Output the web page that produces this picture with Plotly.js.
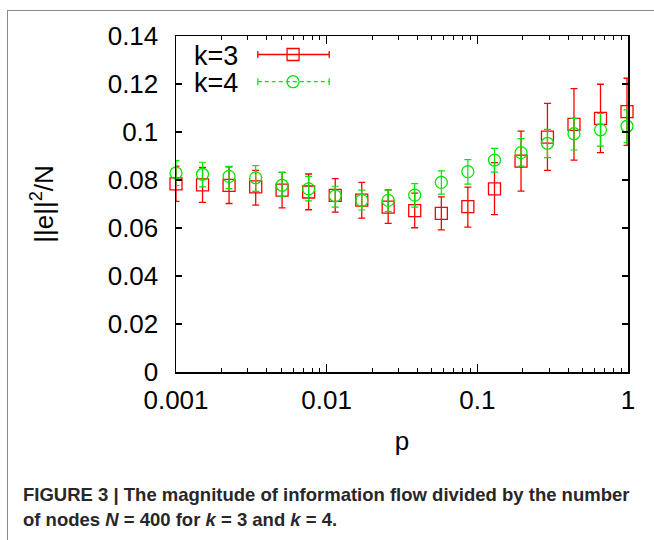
<!DOCTYPE html>
<html><head><meta charset="utf-8">
<script src="https://cdn.plot.ly/plotly-3.0.1.min.js"></script>
<style>
html,body{margin:0;padding:0;background:#fff;}
#wrap{position:relative;width:654px;height:540px;overflow:hidden;}
#chart{position:absolute;left:0;top:0;width:654px;height:540px;}
#frame{position:absolute;left:7px;top:10px;width:700px;height:600px;border-top:1.5px solid #8a8a8a;border-left:1.5px solid #8a8a8a;pointer-events:none;}
</style></head><body>
<div id="wrap"><div id="chart"></div><div id="frame"></div></div>
<script>
// x values (p)
const p = [0.001, 0.0015, 0.00225, 0.00338, 0.00506, 0.00759, 0.0114, 0.0171, 0.0256, 0.0384, 0.0577, 0.0865, 0.130, 0.195, 0.292, 0.438, 0.657, 0.985];
// k=3 series
const k3 = [0.0784, 0.0780, 0.0778, 0.0771, 0.0758, 0.0750, 0.0736, 0.0716, 0.0687, 0.0672, 0.0661, 0.0689, 0.0763, 0.0879, 0.0979, 0.1032, 0.1057, 0.1085];
const k3Hi = [0.0858, 0.0853, 0.0855, 0.0840, 0.0832, 0.0825, 0.0806, 0.0790, 0.0759, 0.0745, 0.0730, 0.0770, 0.0872, 0.1004, 0.1119, 0.1181, 0.1199, 0.1224];
const k3Lo = [0.0711, 0.0707, 0.0702, 0.0695, 0.0684, 0.0676, 0.0666, 0.0641, 0.0619, 0.0601, 0.0592, 0.0604, 0.0656, 0.0754, 0.0840, 0.0883, 0.0914, 0.0944];
// k=4 series
const k4 = [0.0829, 0.0824, 0.0815, 0.0809, 0.0778, 0.0763, 0.0734, 0.0715, 0.0715, 0.0737, 0.0790, 0.0835, 0.0883, 0.0914, 0.0953, 0.0993, 0.1009, 0.1024];
const k4Hi = [0.0881, 0.0874, 0.0857, 0.0860, 0.0832, 0.0815, 0.0774, 0.0758, 0.0758, 0.0785, 0.0838, 0.0885, 0.0932, 0.0972, 0.1011, 0.1057, 0.1077, 0.1092];
const k4Lo = [0.0777, 0.0771, 0.0764, 0.0753, 0.0731, 0.0713, 0.0687, 0.0675, 0.0668, 0.0687, 0.0741, 0.0783, 0.0833, 0.0858, 0.0893, 0.0925, 0.0941, 0.0956];
// tick labels
const xTickVals = [0.001, 0.01, 0.1, 1];
const xTickText = ["0.001", "0.01", "0.1", "1"];
const xMinorVals = [0.002,0.003,0.004,0.005,0.006,0.007,0.008,0.009,0.02,0.03,0.04,0.05,0.06,0.07,0.08,0.09,0.2,0.3,0.4,0.5,0.6,0.7,0.8,0.9];
const yTickVals = [0, 0.02, 0.04, 0.06, 0.08, 0.1, 0.12, 0.14];
const yTickText = ["0", "0.02", "0.04", "0.06", "0.08", "0.1", "0.12", "0.14"];
const seriesNames = ["k=3", "k=4"];
const captionLine1 = "FIGURE 3 | The magnitude of information flow divided by the number";
const captionLine2 = "of nodes <i>N</i> = 400 for <i>k</i> = 3 and <i>k</i> = 4.";

const RED = "#ff0000", GREEN = "#00e600";
const FONT = "Liberation Sans, Arial, Helvetica, sans-serif";

const diff = (a, b) => a.map((v, i) => +(v - b[i]).toFixed(5));

const traces = [
  {
    x: p, y: k3, name: seriesNames[0], type: "scatter", mode: "markers", cliponaxis: false,
    marker: {symbol: "square-open", size: 12, color: RED, line: {width: 1.3, color: RED}},
    error_y: {type: "data", symmetric: false, array: diff(k3Hi, k3), arrayminus: diff(k3, k3Lo),
              color: RED, thickness: 1.3, width: 3.5},
    showlegend: false
  },
  {
    x: p, y: k4, name: seriesNames[1], type: "scatter", mode: "markers", cliponaxis: false,
    marker: {symbol: "circle-open", size: 12, color: GREEN, line: {width: 1.3, color: GREEN}},
    error_y: {type: "data", symmetric: false, array: diff(k4Hi, k4), arrayminus: diff(k4, k4Lo),
              color: GREEN, thickness: 1.2, width: 3.5},
    showlegend: false
  }
];

// custom gnuplot-style legend (paper coordinates)
const lgX0 = 0.181, lgX1 = 0.339, lgXm = 0.259, lgY1 = 0.945, lgY2 = 0.864;
const shapes = [
  {type: "line", xref: "paper", yref: "paper", x0: lgX0, x1: lgX1, y0: lgY1, y1: lgY1, line: {color: RED, width: 1.3}},
  {type: "line", xref: "paper", yref: "paper", ysizemode: "pixel", yanchor: lgY1, x0: lgX0, x1: lgX0, y0: -3.5, y1: 3.5, line: {color: RED, width: 1.3}},
  {type: "line", xref: "paper", yref: "paper", ysizemode: "pixel", yanchor: lgY1, x0: lgX1, x1: lgX1, y0: -3.5, y1: 3.5, line: {color: RED, width: 1.3}},
  {type: "rect", xref: "paper", yref: "paper", xsizemode: "pixel", ysizemode: "pixel", xanchor: lgXm, yanchor: lgY1, x0: -6, x1: 6, y0: -6, y1: 6, line: {color: RED, width: 1.3}, fillcolor: "rgba(0,0,0,0)"},
  {type: "line", xref: "paper", yref: "paper", x0: lgX0, x1: lgX1, y0: lgY2, y1: lgY2, line: {color: GREEN, width: 1.2, dash: "4px,3px"}},
  {type: "line", xref: "paper", yref: "paper", ysizemode: "pixel", yanchor: lgY2, x0: lgX0, x1: lgX0, y0: -3.5, y1: 3.5, line: {color: GREEN, width: 1.2}},
  {type: "line", xref: "paper", yref: "paper", ysizemode: "pixel", yanchor: lgY2, x0: lgX1, x1: lgX1, y0: -3.5, y1: 3.5, line: {color: GREEN, width: 1.2}},
  {type: "circle", xref: "paper", yref: "paper", xsizemode: "pixel", ysizemode: "pixel", xanchor: lgXm, yanchor: lgY2, x0: -6, x1: 6, y0: -6, y1: 6, line: {color: GREEN, width: 1.3}, fillcolor: "rgba(0,0,0,0)"}
];

const annotations = [
  {xref: "paper", yref: "paper", x: 0.036, y: 0.940, xanchor: "left", yanchor: "middle", showarrow: false,
   text: seriesNames[0], font: {family: FONT, size: 27, color: "#000"}},
  {xref: "paper", yref: "paper", x: 0.036, y: 0.860, xanchor: "left", yanchor: "middle", showarrow: false,
   text: seriesNames[1], font: {family: FONT, size: 27, color: "#000"}},
  {xref: "paper", yref: "paper", x: -0.343, y: -0.366, xanchor: "left", yanchor: "middle", showarrow: false,
   text: captionLine1, font: {family: FONT, size: 18.5, color: "#2a2627", weight: "bold"}},
  {xref: "paper", yref: "paper", x: -0.343, y: -0.440, xanchor: "left", yanchor: "middle", showarrow: false,
   text: captionLine2, font: {family: FONT, size: 18.5, color: "#2a2627", weight: "bold"}}
];

const axisCommon = {
  showline: true, linecolor: "#000", linewidth: 1.5, mirror: "ticks",
  ticks: "inside", tickcolor: "#000", tickwidth: 1.2,
  showgrid: false, zeroline: false, fixedrange: true,
  tickfont: {family: FONT, size: 26, color: "#000"}
};

const layout = {
  width: 654, height: 540,
  margin: {l: 176, r: 26, t: 36, b: 168, pad: 0},
  paper_bgcolor: "rgba(0,0,0,0)", plot_bgcolor: "#fff",
  showlegend: false,
  xaxis: Object.assign({}, axisCommon, {
    type: "log", range: [-3, 0], tickmode: "array", tickvals: xTickVals, ticktext: xTickText,
    ticklen: 8, ticklabelstandoff: 4,
    minor: {tickmode: "array", tickvals: xMinorVals, ticks: "inside", ticklen: 4, tickwidth: 1, tickcolor: "#000", showgrid: false},
    title: {text: "p", font: {family: FONT, size: 26, color: "#000"}, standoff: 18}
  }),
  yaxis: Object.assign({}, axisCommon, {
    range: [0, 0.14], tickmode: "array", tickvals: yTickVals, ticktext: yTickText,
    ticklen: 6, ticklabelstandoff: 11,
    title: {text: "||e||<sup>2</sup>/N", font: {family: FONT, size: 26, color: "#000"}, standoff: 46}
  }),
  shapes: shapes,
  annotations: annotations
};

Plotly.newPlot("chart", traces, layout, {staticPlot: true, displayModeBar: false});
</script>
</body></html>
